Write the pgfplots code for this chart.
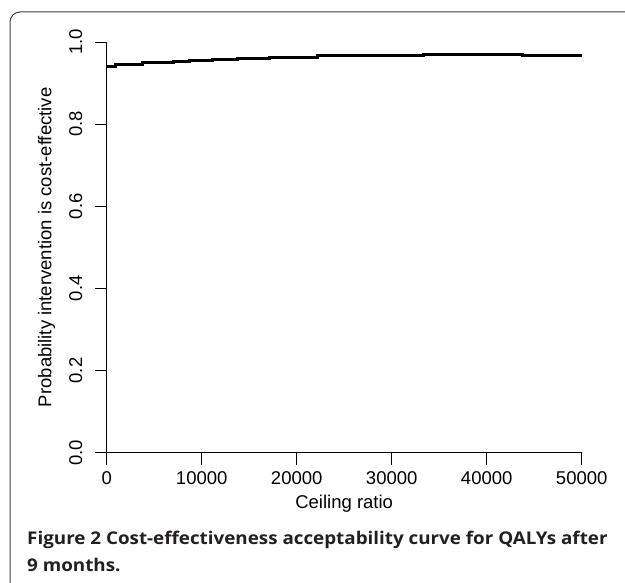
\documentclass[border=0pt]{standalone}
\usepackage{fontspec}
\setmainfont{Liberation Sans}
\newfontfamily\capfont[FakeStretch=1.075]{Open Sans}
\usepackage{pgfplots}
\pgfplotsset{compat=1.18}
\definecolor{captext}{HTML}{231F20}

\begin{document}
\begin{tikzpicture}
  \useasboundingbox (0,0) rectangle (625pt,583pt);
  % frame with the rounded top-left corner
  \draw[line width=1pt, black!75, rounded corners=10pt]
    (625pt,571pt) -- (10pt,571pt) -- (10pt,0pt);
  \begin{axis}[
      at={(106.7pt,130.3pt)}, anchor=south west,
      scale only axis,
      width=475pt, height=410.7pt,
      xmin=0, xmax=50000, ymin=0, ymax=1,
      axis lines=left,
      axis line style={-, line width=0.8pt},
      tick style={line width=0.8pt, black},
      tick align=outside,
      major tick length=12pt,
      xtick={0,10000,...,50000},
      ytick={0,0.2,...,1.0},
      scaled x ticks=false,
      /pgf/number format/assume math mode=true,
      xticklabel style={/pgf/number format/1000 sep={}, anchor=center, yshift=-13.8pt,
        font=\fontsize{18.5}{22}\selectfont},
      yticklabel style={/pgf/number format/fixed, /pgf/number format/fixed zerofill,
        /pgf/number format/precision=1,
        xshift=-19pt, rotate=90, anchor=center, font=\fontsize{18.5}{22}\selectfont},
      xlabel={Ceiling ratio},
      ylabel={Probability intervention is cost-effective},
      every axis x label/.style={at={(axis description cs:0.5,-0.1347)}, anchor=base,
        font=\fontsize{18.5}{22}\selectfont},
      every axis y label/.style={at={(axis description cs:-0.1263,0.5)}, anchor=center,
        rotate=90, font=\fontsize{18.5}{22}\selectfont},
      clip=false,
    ]
    \addplot[const plot, line width=3pt, black] coordinates {
      (0,0.941) (874,0.944) (2137,0.946) (3716,0.949) (5084,0.951)
      (6979,0.953) (8768,0.956) (11189,0.958) (13716,0.961) (17189,0.963)
      (22137,0.966) (33295,0.970) (43821,0.967) (50000,0.967)
    };
  \end{axis}
  \node[anchor=base west, inner sep=0pt, text=captext, font=\capfont\bfseries\fontsize{17.5}{21}\selectfont]
    at (27pt,38pt) {Figure 2 Cost-effectiveness acceptability curve for QALYs after};
  \node[anchor=base west, inner sep=0pt, text=captext, font=\capfont\bfseries\fontsize{17.5}{21}\selectfont]
    at (27pt,11pt) {9 months.};
\end{tikzpicture}
\end{document}
